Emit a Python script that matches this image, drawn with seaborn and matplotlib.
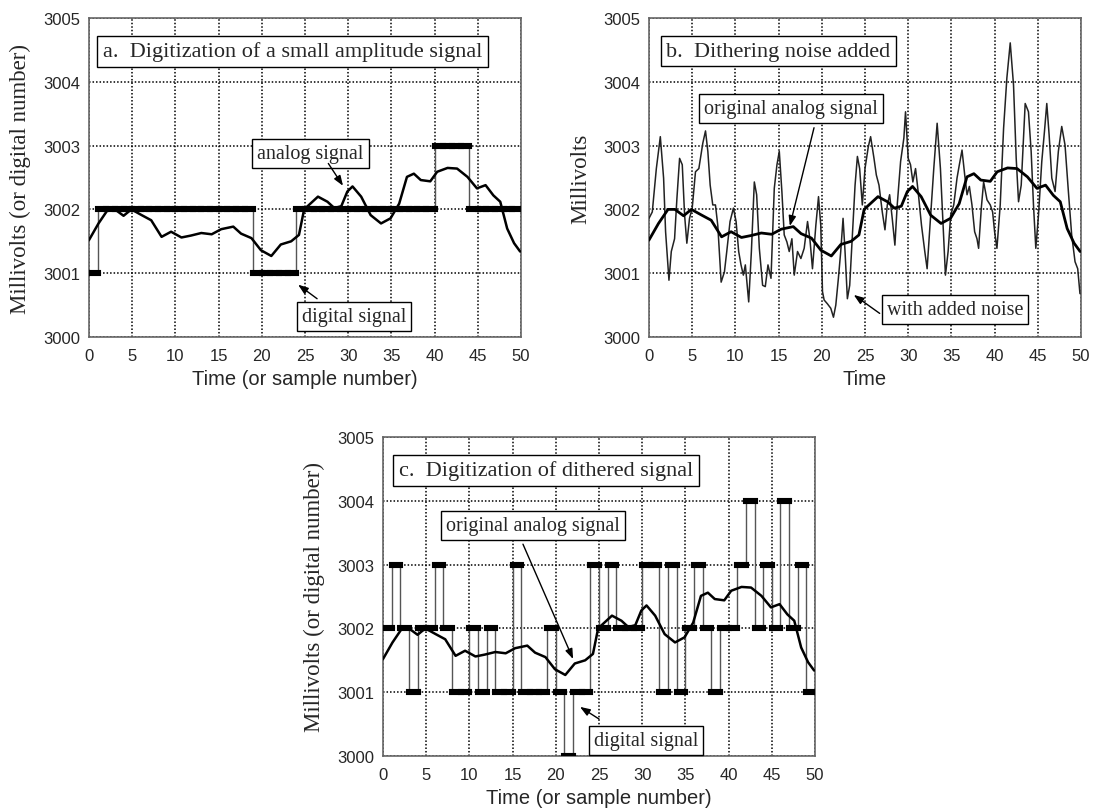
import numpy as np
import pandas as pd
import matplotlib
matplotlib.use("Agg")
import matplotlib.pyplot as plt
import seaborn as sns

# analog signal (same in all three panels)
analog_x = [0, 1.1, 2.2, 3.0, 4.0, 4.9, 6.1, 7.2, 8.4, 9.5, 10.7, 11.8, 13.0, 14.2, 15.3,
            16.7, 17.6, 18.8, 19.9, 21.1, 22.2, 23.4, 24.3, 24.9, 25.7, 26.5, 27.6, 28.4,
            29.2, 29.9, 30.5, 31.5, 32.6, 33.8, 34.9, 35.9, 36.8, 37.6, 38.4, 39.5, 40.3,
            41.5, 42.6, 43.8, 44.9, 45.9, 46.8, 47.6, 48.4, 49.2, 49.9]
analog_y = [3001.52, 3001.78, 3002.0, 3002.0, 3001.9, 3002.0, 3001.91, 3001.83, 3001.57,
            3001.65, 3001.56, 3001.59, 3001.63, 3001.61, 3001.69, 3001.73, 3001.62, 3001.55,
            3001.36, 3001.27, 3001.45, 3001.5, 3001.6, 3002.0, 3002.1, 3002.2, 3002.12,
            3002.02, 3002.05, 3002.28, 3002.36, 3002.2, 3001.91, 3001.78, 3001.86, 3002.09,
            3002.51, 3002.56, 3002.46, 3002.44, 3002.59, 3002.65, 3002.64, 3002.51, 3002.33,
            3002.38, 3002.22, 3002.12, 3001.7, 3001.47, 3001.34]

# analog signal with dithering noise
noise_x = [0, 0.38, 0.85, 1.31, 1.69, 1.92, 2.31, 2.58, 2.96, 3.23, 3.54, 3.85, 4.12, 4.38,
           4.69, 5.0, 5.38, 5.77, 6.23, 6.54, 6.81, 7.08, 7.38, 7.69, 7.96, 8.35, 8.73, 9.0,
           9.38, 9.77, 10.08, 10.38, 10.65, 10.92, 11.15, 11.54, 11.85, 12.19, 12.46, 12.77,
           13.15, 13.46, 13.77, 14.12, 14.5, 14.81, 15.08, 15.38, 15.65, 15.96, 16.23, 16.54,
           16.81, 17.19, 17.58, 17.96, 18.35, 18.62, 18.92, 19.31, 19.62, 19.88, 20.08, 20.27,
           20.65, 21.04, 21.35, 21.62, 21.92, 22.19, 22.46, 22.69, 22.96, 23.23, 23.54, 23.85,
           24.12, 24.38, 24.69, 25.0, 25.38, 25.65, 26.04, 26.31, 26.62, 27.0, 27.31, 27.58,
           27.85, 28.15, 28.46, 28.73, 29.12, 29.5, 29.69, 30.0, 30.27, 30.54, 30.85, 31.15,
           31.54, 31.92, 32.19, 32.58, 32.96, 33.35, 33.73, 34.0, 34.31, 34.62, 34.92, 35.27,
           35.65, 35.92, 36.23, 36.54, 36.81, 37.08, 37.38, 37.69, 37.96, 38.15, 38.46, 38.73,
           39.12, 39.5, 39.77, 40.0, 40.27, 40.65, 41.04, 41.42, 41.81, 42.19, 42.5, 42.77,
           43.08, 43.54, 43.92, 44.23, 44.5, 44.77, 45.08, 45.46, 45.77, 46.04, 46.31, 46.62,
           47.0, 47.38, 47.77, 48.15, 48.54, 48.92, 49.31, 49.62, 49.88]
noise_y = [3001.86, 3001.96, 3002.64, 3003.14, 3002.49, 3001.65, 3000.89, 3001.34, 3001.54,
           3002.17, 3002.80, 3002.70, 3001.91, 3001.47, 3001.86, 3002.02, 3002.59, 3002.64,
           3003.04, 3003.23, 3002.91, 3002.38, 3002.07, 3002.07, 3001.75, 3000.86, 3001.02,
           3001.34, 3001.81, 3002.02, 3001.81, 3001.34, 3001.13, 3000.97, 3001.13, 3000.55,
           3001.34, 3002.43, 3002.23, 3001.39, 3000.81, 3000.79, 3001.13, 3000.92, 3002.33,
           3002.70, 3002.91, 3002.28, 3001.60, 3001.49, 3001.34, 3001.54, 3000.97, 3001.34,
           3001.23, 3001.39, 3001.81, 3001.54, 3001.07, 3001.75, 3002.20, 3001.75, 3000.71,
           3000.58, 3000.52, 3000.45, 3000.31, 3000.50, 3000.92, 3001.34, 3001.86, 3001.34,
           3000.60, 3000.81, 3001.60, 3002.38, 3002.83, 3002.64, 3002.07, 3002.64, 3002.98,
           3003.14, 3002.80, 3002.54, 3002.38, 3001.96, 3001.68, 3002.07, 3002.23, 3001.86,
           3001.44, 3002.07, 3002.75, 3003.12, 3003.53, 3002.80, 3002.70, 3002.43, 3002.64,
           3002.28, 3001.75, 3001.34, 3001.07, 3001.86, 3002.64, 3003.35, 3002.64, 3001.86,
           3000.97, 3001.34, 3001.91, 3002.07, 3002.49, 3002.70, 3002.93, 3002.54, 3002.23,
           3002.36, 3002.07, 3001.65, 3001.54, 3001.39, 3002.02, 3002.43, 3002.15, 3002.07,
           3001.96, 3001.65, 3001.39, 3002.07, 3003.27, 3004.06, 3004.61, 3003.95, 3002.80,
           3002.12, 3002.38, 3003.66, 3003.53, 3002.91, 3002.07, 3001.39, 3001.91, 3002.75,
           3003.22, 3003.66, 3003.17, 3002.49, 3002.28, 3002.91, 3003.30, 3003.01, 3002.28,
           3001.60, 3001.18, 3001.07, 3000.68]

# digital samples 0..49
sample_n = list(range(50))
digital_a = [3001] + [3002] * 18 + [3001] * 5 + [3002] * 16 + [3003] * 4 + [3002] * 6
digital_c = [3002, 3003, 3002, 3001, 3002, 3002, 3003, 3002, 3001, 3001,
             3002, 3001, 3002, 3001, 3001, 3003, 3001, 3001, 3001, 3002,
             3001, 3000, 3001, 3001, 3003, 3002, 3003, 3002, 3002, 3002,
             3003, 3003, 3001, 3003, 3001, 3002, 3003, 3002, 3001, 3002,
             3002, 3003, 3004, 3002, 3003, 3002, 3004, 3002, 3003, 3001]

x_ticks = list(range(0, 51, 5))
y_ticks = [3000, 3001, 3002, 3003, 3004, 3005]

sns.set_style("white")
plt.rcParams["font.family"] = ["Liberation Sans Narrow", "Liberation Sans", "DejaVu Sans"]
serif = ["Liberation Serif", "DejaVu Serif"]

fig = plt.figure(figsize=(10.97, 8.12), dpi=100)
W, H = 1097, 812


def make_ax(left, top):
    right = left + 432
    bottom = top + 319
    return fig.add_axes([left / W, 1 - bottom / H, (right - left) / W, (bottom - top) / H])


ax_a = make_ax(89, 19)
ax_b = make_ax(649, 19)
ax_c = make_ax(383, 438)

df_analog = pd.DataFrame({"t": analog_x, "mv": analog_y})
df_noise = pd.DataFrame({"t": noise_x, "mv": noise_y})


def style(ax, xlabel, ylabel):
    ax.set_xlim(0, 50)
    ax.set_ylim(3000, 3005)
    ax.set_xticks(x_ticks)
    ax.set_yticks(y_ticks)
    ax.grid(True, color="black", linestyle=(0, (1, 1.3)), linewidth=1.1)
    ax.set_axisbelow(True)
    for s in ax.spines.values():
        s.set_color("#666666")
        s.set_linewidth(1.2)
    ax.tick_params(direction="inout", length=6, width=1, color="#666666",
                   labelsize=12, pad=3)
    ax.tick_params(axis="x", pad=5)
    ax.set_xlabel(xlabel, fontsize=14.5, labelpad=4)
    ax.set_ylabel(ylabel, fontsize=16.5, family=serif, labelpad=9)


def draw_digital(ax, vals):
    steps = pd.DataFrame({"t": sample_n + [50], "mv": vals + [vals[-1]]})
    sns.lineplot(data=steps, x="t", y="mv", ax=ax, color="#555555", lw=1.0,
                 drawstyle="steps-post")
    ax.hlines(vals, sample_n, [n + 1 for n in sample_n], colors="black", lw=4.4,
              capstyle="projecting", zorder=3)


def label_box(ax, x, y, txt, size=14.5):
    ax.text(x, y, txt, fontsize=size, family=serif, ha="left", va="center", zorder=6,
            bbox=dict(boxstyle="square,pad=0.25", fc="white", ec="black", lw=1))


def arrow(ax, tail, tip):
    ax.annotate("", xy=tip, xytext=tail, zorder=6,
                arrowprops=dict(arrowstyle="-|>,head_length=0.6,head_width=0.22",
                                color="black", lw=1, shrinkA=0, shrinkB=0))


# panel a
draw_digital(ax_a, digital_a)
sns.lineplot(data=df_analog, x="t", y="mv", ax=ax_a, color="black", lw=1.8, zorder=4)
style(ax_a, "Time (or sample number)", "Millivolts (or digital number)")
label_box(ax_a, 1.6, 3004.48, "a.  Digitization of a small amplitude signal", 16)
label_box(ax_a, 19.5, 3002.88, "analog signal")
arrow(ax_a, (27.7, 3002.72), (29.4, 3002.37))
label_box(ax_a, 24.6, 3000.32, "digital signal")
arrow(ax_a, (26.4, 3000.6), (24.2, 3000.82))

# panel b
sns.lineplot(data=df_noise, x="t", y="mv", ax=ax_b, color="#222222", lw=1.1, zorder=3)
sns.lineplot(data=df_analog, x="t", y="mv", ax=ax_b, color="black", lw=2.0, zorder=4)
style(ax_b, "Time", "Millivolts")
label_box(ax_b, 2.0, 3004.48, "b.  Dithering noise added", 16)
label_box(ax_b, 6.4, 3003.58, "original analog signal")
arrow(ax_b, (19.1, 3003.28), (16.3, 3001.74))
label_box(ax_b, 27.5, 3000.43, "with added noise")
arrow(ax_b, (26.7, 3000.37), (23.7, 3000.66))

# panel c
draw_digital(ax_c, digital_c)
sns.lineplot(data=df_analog, x="t", y="mv", ax=ax_c, color="black", lw=1.8, zorder=4)
style(ax_c, "Time (or sample number)", "Millivolts (or digital number)")
label_box(ax_c, 1.85, 3004.48, "c.  Digitization of dithered signal", 16)
label_box(ax_c, 7.3, 3003.62, "original analog signal")
arrow(ax_c, (16.2, 3003.32), (22.0, 3001.52))
label_box(ax_c, 24.4, 3000.25, "digital signal")
arrow(ax_c, (25.0, 3000.58), (22.8, 3000.77))

fig.savefig("out.png", dpi=100)
